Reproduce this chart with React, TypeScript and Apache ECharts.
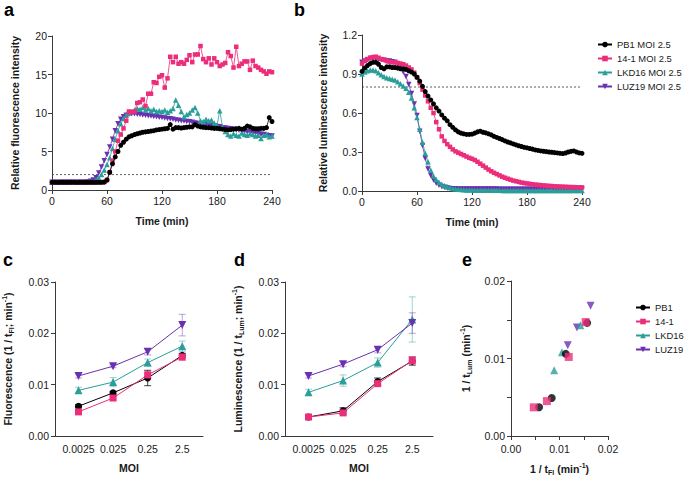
import React, { useEffect, useRef } from "react";
import * as echarts from "echarts";

// ---------- data ----------
const timeMin = [0,3,6,9,12,15,18,21,24,27,30,33,36,39,42,45,48,51,54,57,60,63,66,69,72,75,78,81,84,87,90,93,96,99,102,105,108,111,114,117,120,123,126,129,132,135,138,141,144,147,150,153,156,159,162,165,168,171,174,177,180,183,186,189,192,195,198,201,204,207,210,213,216,219,222,225,228,231,234,237,240];

const fluoPB1 = [1.0,1.0,0.98,1.0,1.0,0.99,1.0,1.0,1.0,0.98,
 1.0,1.0,0.99,1.0,1.0,1.0,0.99,1.0,1.0,1.02,
 1.3,2.3,3.4,4.3,5.0,5.8,6.2,6.6,6.9,7.05,
 7.2,7.3,7.4,7.5,7.55,7.6,7.65,7.7,7.8,7.85,
 7.9,7.95,8.0,8.5,7.9,8.1,8.1,8.05,8.1,8.15,
 8.2,8.2,8.5,8.3,8.2,8.15,8.1,8.1,8.05,8.0,
 8.0,7.95,7.9,7.85,7.8,7.85,7.9,7.95,8.0,7.9,
 8.0,8.3,8.2,8.0,7.95,7.95,8.0,8.0,8.1,9.4,
 8.9];
const fluo141 = [1.0,0.98,1.0,1.0,0.99,1.0,1.0,0.98,1.0,1.0,
 1.0,0.99,1.0,1.0,0.98,1.0,1.0,1.0,1.0,1.05,
 1.3,2.3,3.8,5.0,6.4,7.2,8.0,9.0,10.2,10.1,
 10.2,11.3,11.4,11.75,10.9,12.5,12.5,14.0,13.9,14.7,
 14.9,13.3,14.5,17.3,16.6,17.3,16.4,16.6,16.4,16.9,
 17.5,16.6,17.6,17.6,18.7,17.0,16.6,17.1,16.3,17.1,
 16.6,16.1,16.3,16.5,17.9,17.4,15.9,18.6,16.1,16.4,
 16.7,16.7,15.6,16.8,16.1,15.9,15.6,15.4,15.1,15.4,
 15.3];
const fluoLKD16 = [1.0,1.0,1.0,1.0,1.0,1.0,1.0,1.0,1.0,1.0,
 1.0,1.0,1.0,1.02,1.05,1.1,1.3,1.6,2.0,2.6,
 3.3,4.2,5.4,6.6,7.7,8.6,9.3,9.7,10.0,10.2,
 10.4,10.6,10.5,10.7,10.4,10.6,10.3,10.5,10.2,10.3,
 10.2,10.4,10.1,10.3,10.6,11.7,11.0,10.2,9.5,9.8,
 10.0,10.4,10.7,10.0,9.0,8.9,9.2,9.0,9.1,8.7,
 8.4,10.3,8.2,7.6,7.2,7.0,7.3,7.1,7.0,7.4,
 7.2,7.1,7.3,7.2,7.0,7.1,6.7,7.1,7.2,6.9,
 7.0];
const fluoLUZ19 = [1.0,1.0,1.0,1.0,1.0,1.0,1.0,1.0,1.0,1.0,
 1.0,1.0,1.0,1.05,1.15,1.3,1.6,2.2,3.0,3.8,
 4.6,5.6,6.6,7.7,8.6,9.2,9.5,9.7,9.85,9.9,
 9.9,9.85,9.8,9.75,9.7,9.65,9.6,9.55,9.5,9.45,
 9.4,9.35,9.3,9.25,9.2,9.1,9.05,9.0,8.95,8.9,
 8.85,8.8,8.7,8.65,8.6,8.55,8.5,8.45,8.4,8.3,
 8.25,8.2,8.1,8.05,8.0,7.95,7.9,7.8,7.75,7.7,
 7.6,7.55,7.5,7.45,7.4,7.3,7.25,7.2,7.1,7.05,
 7.0];

const lumPB1 = [0.92,0.945,0.965,0.98,0.99,0.99,0.975,0.95,0.94,0.955,
 0.955,0.95,0.95,0.945,0.94,0.94,0.935,0.925,0.915,0.9,
 0.875,0.845,0.805,0.765,0.73,0.7,0.67,0.64,0.615,0.585,
 0.56,0.54,0.51,0.49,0.47,0.455,0.445,0.44,0.435,0.435,
 0.437,0.445,0.455,0.46,0.452,0.447,0.44,0.432,0.42,0.412,
 0.404,0.395,0.385,0.377,0.37,0.362,0.355,0.348,0.342,0.336,
 0.332,0.327,0.322,0.316,0.312,0.308,0.306,0.303,0.3,0.298,
 0.295,0.293,0.29,0.288,0.292,0.3,0.305,0.308,0.3,0.293,
 0.29];
const lum141 = [0.98,1.0,1.015,1.025,1.03,1.033,1.025,1.015,1.01,1.0,
 0.995,0.99,0.99,0.985,0.98,0.975,0.965,0.95,0.935,0.91,
 0.875,0.83,0.78,0.735,0.69,0.64,0.6,0.53,0.475,0.42,
 0.385,0.36,0.34,0.32,0.305,0.295,0.285,0.275,0.265,0.255,
 0.248,0.238,0.225,0.21,0.195,0.18,0.165,0.152,0.14,0.13,
 0.12,0.11,0.102,0.094,0.087,0.08,0.075,0.07,0.065,0.061,
 0.058,0.055,0.052,0.049,0.047,0.045,0.043,0.041,0.039,0.038,
 0.036,0.035,0.034,0.033,0.032,0.031,0.03,0.03,0.029,0.029,
 0.028];
const lumLKD16 = [0.9,0.915,0.925,0.93,0.93,0.925,0.91,0.895,0.88,0.872,
 0.866,0.86,0.853,0.84,0.825,0.808,0.79,0.76,0.715,0.64,
 0.565,0.475,0.375,0.29,0.225,0.16,0.115,0.088,0.068,0.052,
 0.04,0.032,0.026,0.02,0.016,0.013,0.011,0.009,0.008,0.007,
 0.007,0.006,0.006,0.006,0.006,0.005,0.005,0.005,0.005,0.005,
 0.005,0.004,0.004,0.004,0.004,0.004,0.004,0.004,0.004,0.004,
 0.003,0.003,0.003,0.003,0.003,0.003,0.003,0.003,0.003,0.003,
 0.003,0.003,0.003,0.003,0.003,0.003,0.003,0.003,0.003,0.003,
 0.003];
const lumLUZ19 = [0.99,1.0,1.01,1.02,1.02,1.015,1.01,1.01,1.005,1.0,
 1.0,0.995,0.99,0.975,0.95,0.915,0.88,0.82,0.75,0.67,
 0.58,0.46,0.35,0.25,0.17,0.12,0.085,0.06,0.045,0.035,
 0.028,0.023,0.02,0.018,0.017,0.016,0.016,0.015,0.015,0.015,
 0.015,0.015,0.015,0.015,0.015,0.015,0.015,0.015,0.015,0.015,
 0.014,0.014,0.014,0.014,0.014,0.014,0.014,0.014,0.014,0.014,
 0.013,0.013,0.013,0.013,0.013,0.013,0.013,0.013,0.013,0.013,
 0.012,0.012,0.012,0.012,0.012,0.012,0.012,0.012,0.012,0.012,
 0.012];

const fluoThreshold = 2;
const lumThreshold = 0.8;

const moiLabels = ["0.0025", "0.025", "0.25", "2.5"];
const moiPos = [0, 1, 2, 3];

// 1 / t_Fl (panel c)
const rateFlPB1 = [0.0058, 0.0084, 0.0113, 0.0157];
const rateFl141 = [0.0047, 0.0074, 0.0119, 0.0154];
const rateFlLKD16 = [0.0089, 0.0105, 0.0143, 0.0175];
const rateFlLUZ19 = [0.0117, 0.0136, 0.0164, 0.0216];
const errFlPB1 = [0.0003, 0.0003, 0.0015, 0.0004];
const errFl141 = [0.0003, 0.0003, 0.0007, 0.0007];
const errFlLKD16 = [0.0006, 0.0009, 0.0007, 0.001];
const errFlLUZ19 = [0.0004, 0.0003, 0.0006, 0.0021];

// 1 / t_Lum (panel d)
const rateLumPB1 = [0.0037, 0.0049, 0.0106, 0.0146];
const rateLum141 = [0.0037, 0.0045, 0.0102, 0.0147];
const rateLumLKD16 = [0.0085, 0.0108, 0.0143, 0.0227];
const rateLumLUZ19 = [0.0117, 0.014, 0.0168, 0.022];
const errLumPB1 = [0.0002, 0.0006, 0.0007, 0.0008];
const errLum141 = [0.0002, 0.0003, 0.0004, 0.0007];
const errLumLKD16 = [0.0006, 0.0011, 0.0009, 0.0044];
const errLumLUZ19 = [0.0004, 0.0005, 0.0006, 0.002];

const phages = ["PB1", "14-1", "LKD16", "LUZ19"];

// ---------- styling ----------
const FONT = "'Liberation Sans', Arial, Helvetica, sans-serif";
const AXIS_COLOR = "#3a3a3a";
const TEXT_COLOR = "#1a1a1a";
const COLORS = ["#000000", "#EC2D7A", "#2A9E99", "#6A30B2"];
const ERR_COLORS = ["rgba(0,0,0,0.75)", "rgba(236,45,122,0.45)", "rgba(42,158,153,0.45)", "rgba(106,48,178,0.45)"];
const SYMBOLS = ["circle", "rect", "triangle", "triangle"];
const ROTATE = [0, 0, 0, 180];

const fluo = [fluoPB1, fluo141, fluoLKD16, fluoLUZ19];
const lum = [lumPB1, lum141, lumLKD16, lumLUZ19];
const rateFl = [rateFlPB1, rateFl141, rateFlLKD16, rateFlLUZ19];
const errFl = [errFlPB1, errFl141, errFlLKD16, errFlLUZ19];
const rateLum = [rateLumPB1, rateLum141, rateLumLKD16, rateLumLUZ19];
const errLum = [errLumPB1, errLum141, errLumLKD16, errLumLUZ19];

const nameStyle = {
  fontFamily: FONT,
  fontSize: 10.5,
  fontWeight: "bold",
  color: TEXT_COLOR,
  lineHeight: 14,
  rich: {
    sub: { fontFamily: FONT, fontSize: 7, fontWeight: "bold", color: TEXT_COLOR, lineHeight: 8, verticalAlign: "bottom" },
    sup: { fontFamily: FONT, fontSize: 7, fontWeight: "bold", color: TEXT_COLOR, lineHeight: 8, verticalAlign: "top" },
  },
};

function axisBase(extra: any) {
  return {
    type: "value",
    splitLine: { show: false },
    axisLine: { show: true, onZero: false, lineStyle: { color: AXIS_COLOR, width: 1 } },
    axisTick: { show: true, length: 4, lineStyle: { color: AXIS_COLOR, width: 1 } },
    axisLabel: { color: TEXT_COLOR, fontFamily: FONT, fontSize: 10.5, margin: 5 },
    nameLocation: "middle",
    nameTextStyle: nameStyle,
    ...extra,
  };
}

function tsSeries(k: number, values: number[], axis: number) {
  return {
    type: "line",
    name: phages[k] + " MOI 2.5",
    xAxisIndex: axis,
    yAxisIndex: axis,
    data: timeMin.map((t, i) => [t, values[i]]),
    symbol: SYMBOLS[k],
    symbolSize: k === 0 ? 5 : k === 1 ? 4.5 : 5.5,
    symbolRotate: ROTATE[k],
    itemStyle: { color: COLORS[k] },
    lineStyle: { color: COLORS[k], width: 0.8 },
    silent: true,
    z: 3 + (k === 0 ? 3 : k === 1 ? 2 : k === 2 ? 1 : 0),
  };
}

function rateSeries(k: number, values: number[], axis: number) {
  return {
    type: "line",
    name: phages[k],
    xAxisIndex: axis,
    yAxisIndex: axis,
    data: moiPos.map((x, i) => [x, values[i]]),
    symbol: SYMBOLS[k],
    symbolSize: k === 1 ? 7 : k === 0 ? 7 : 8,
    symbolRotate: ROTATE[k],
    itemStyle: { color: COLORS[k] },
    lineStyle: { color: COLORS[k], width: 1 },
    silent: true,
    z: 4,
  };
}

function errSeries(k: number, values: number[], errs: number[], axis: number) {
  const color = ERR_COLORS[k];
  return {
    type: "custom",
    name: "err-" + axis + "-" + phages[k],
    xAxisIndex: axis,
    yAxisIndex: axis,
    data: moiPos.map((x, i) => [x, values[i], errs[i]]),
    encode: { x: 0, y: 1 },
    silent: true,
    z: 2,
    renderItem: (_p: any, api: any) => {
      const x = api.value(0);
      const y = api.value(1);
      const e = api.value(2);
      const hi = api.coord([x, y + e]);
      const lo = api.coord([x, y - e]);
      const w = 3.5;
      const st = { stroke: color, lineWidth: 1 };
      return {
        type: "group",
        children: [
          { type: "line", shape: { x1: hi[0], y1: hi[1], x2: lo[0], y2: lo[1] }, style: st },
          { type: "line", shape: { x1: hi[0] - w, y1: hi[1], x2: hi[0] + w, y2: hi[1] }, style: st },
          { type: "line", shape: { x1: lo[0] - w, y1: lo[1], x2: lo[0] + w, y2: lo[1] }, style: st },
        ],
      };
    },
  };
}

function buildOption() {
  const series: any[] = [];
  // panel c / d lines first so the legend uses line icons
  for (let k = 0; k < 4; k++) series.push(rateSeries(k, rateFl[k], 2));
  for (let k = 0; k < 4; k++) series.push(rateSeries(k, rateLum[k], 3));
  for (let k = 0; k < 4; k++) series.push(errSeries(k, rateFl[k], errFl[k], 2));
  for (let k = 0; k < 4; k++) series.push(errSeries(k, rateLum[k], errLum[k], 3));
  // panel e
  for (const k of [3, 2, 0, 1]) {
    series.push({
      type: "scatter",
      name: phages[k],
      xAxisIndex: 4,
      yAxisIndex: 4,
      data: moiPos.map((_, i) => [rateFl[k][i], rateLum[k][i]]),
      symbol: SYMBOLS[k],
      symbolSize: 8,
      symbolRotate: ROTATE[k],
      itemStyle: { color: COLORS[k] },
      silent: true,
      z: 4,
    });
  }
  // panel a / b
  for (const k of [3, 2, 1, 0]) series.push(tsSeries(k, fluo[k], 0));
  for (const k of [2, 3, 1, 0]) series.push(tsSeries(k, lum[k], 1));
  series.push({
    type: "line", name: "thrA", xAxisIndex: 0, yAxisIndex: 0, silent: true,
    data: [[timeMin[0], fluoThreshold], [timeMin[timeMin.length - 1], fluoThreshold]],
    symbol: "none", lineStyle: { color: "#333", width: 0.8, type: [2, 2] }, z: 1,
  });
  series.push({
    type: "line", name: "thrB", xAxisIndex: 1, yAxisIndex: 1, silent: true,
    data: [[timeMin[0], lumThreshold], [timeMin[timeMin.length - 1], lumThreshold]],
    symbol: "none", lineStyle: { color: "#333", width: 0.8, type: [2, 2] }, z: 1,
  });

  const legendText = { fontFamily: FONT, fontSize: 9.4, color: TEXT_COLOR, overflow: "none" };
  const letter = (t: string, x: number, y: number) => ({
    type: "text", left: x, top: y,
    style: { text: t, fontFamily: FONT, fontSize: 18, fontWeight: "bold", fill: "#000" },
  });

  return {
    animation: false,
    backgroundColor: "#ffffff",
    textStyle: { fontFamily: FONT },
    grid: [
      { left: 52, top: 36, width: 220, height: 154 },
      { left: 362, top: 35, width: 220, height: 156 },
      { left: 54, top: 282, width: 149, height: 154 },
      { left: 285, top: 282, width: 148, height: 154 },
      { left: 511, top: 281, width: 97, height: 155 },
    ],
    xAxis: [
      axisBase({ gridIndex: 0, min: 0, max: 240, interval: 60, name: "Time (min)", nameGap: 24 }),
      axisBase({ gridIndex: 1, min: 0, max: 240, interval: 60, name: "Time (min)", nameGap: 24 }),
      axisBase({
        gridIndex: 2, min: -0.68, max: 3.6, name: "MOI", nameGap: 25,
        axisTick: { show: false },
        axisLabel: { color: TEXT_COLOR, fontFamily: FONT, fontSize: 10.5, margin: 7, customValues: moiPos, formatter: (v: number) => moiLabels[Math.round(v)] },
      }),
      axisBase({
        gridIndex: 3, min: -0.68, max: 3.6, name: "MOI", nameGap: 25,
        axisTick: { show: false },
        axisLabel: { color: TEXT_COLOR, fontFamily: FONT, fontSize: 10.5, margin: 7, customValues: moiPos, formatter: (v: number) => moiLabels[Math.round(v)] },
      }),
      axisBase({
        gridIndex: 4, min: 0, max: 0.02, interval: 0.005, name: "1 / t{sub|Fl} (min{sup|-1})", nameGap: 26,
        axisTick: { show: true, length: 4, lineStyle: { color: AXIS_COLOR }, customValues: [0, 0.005, 0.01, 0.015, 0.02] },
        axisLabel: { color: TEXT_COLOR, fontFamily: FONT, fontSize: 10.5, margin: 7, customValues: [0, 0.01, 0.02], formatter: (v: number) => v.toFixed(2) },
      }),
    ],
    yAxis: [
      axisBase({ gridIndex: 0, min: 0, max: 20, interval: 5, name: "Relative fluorescence intensity", nameGap: 30 }),
      axisBase({
        gridIndex: 1, min: 0, max: 1.2, interval: 0.3, name: "Relative luminescence intensity", nameGap: 32,
        axisLabel: { color: TEXT_COLOR, fontFamily: FONT, fontSize: 10.5, margin: 5, formatter: (v: number) => v.toFixed(1) },
      }),
      axisBase({
        gridIndex: 2, min: 0, max: 0.03, interval: 0.01, name: "Fluorescence (1 / t{sub|Fl}; min{sup|-1})", nameGap: 40,
        axisLabel: { color: TEXT_COLOR, fontFamily: FONT, fontSize: 10.5, margin: 6, formatter: (v: number) => v.toFixed(2) },
      }),
      axisBase({
        gridIndex: 3, min: 0, max: 0.03, interval: 0.01, name: "Luminescence (1 / t{sub|Lum}; min{sup|-1})", nameGap: 40,
        axisLabel: { color: TEXT_COLOR, fontFamily: FONT, fontSize: 10.5, margin: 6, formatter: (v: number) => v.toFixed(2) },
      }),
      axisBase({
        gridIndex: 4, min: 0, max: 0.02, interval: 0.005, name: "1 / t{sub|Lum} (min{sup|-1})", nameGap: 38,
        axisTick: { show: true, length: 4, lineStyle: { color: AXIS_COLOR }, customValues: [0, 0.005, 0.01, 0.015, 0.02] },
        axisLabel: { color: TEXT_COLOR, fontFamily: FONT, fontSize: 10.5, margin: 6, customValues: [0, 0.01, 0.02], formatter: (v: number) => v.toFixed(2) },
      }),
    ],
    legend: [
      {
        data: phages.map((p) => p + " MOI 2.5"),
        left: 597, top: 40, orient: "vertical", itemGap: 5, itemWidth: 14, itemHeight: 7, padding: 0,
        selectedMode: false, textStyle: legendText,
      },
      {
        data: phages,
        left: 635, top: 303, orient: "vertical", itemGap: 5, itemWidth: 14, itemHeight: 7, padding: 0,
        selectedMode: false, textStyle: legendText,
      },
    ],
    graphic: [
      letter("a", 4, 1),
      letter("b", 294, 1),
      letter("c", 3, 251),
      letter("d", 234, 251),
      letter("e", 462, 251),
    ],
    series,
  };
}

export default function App() {
  const ref = useRef<HTMLDivElement>(null);
  useEffect(() => {
    if (!ref.current) return;
    const chart = echarts.init(ref.current, null, { renderer: "svg" });
    chart.setOption(buildOption() as any);
    return () => chart.dispose();
  }, []);
  return (
    <div
      ref={ref}
      style={{ position: "absolute", left: 0, top: 0, width: 685, height: 477, background: "#fff" }}
    />
  );
}
